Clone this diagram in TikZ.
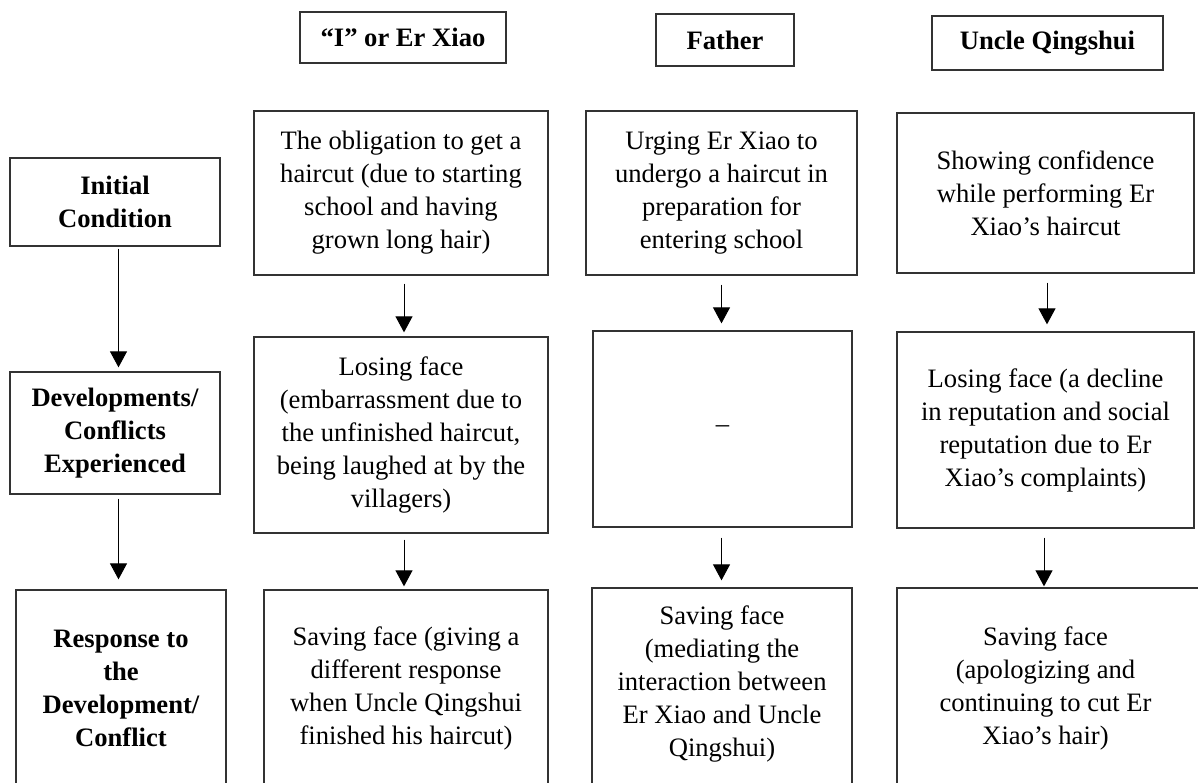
\documentclass[tikz,border=0pt]{standalone}
\usepackage{fontspec}
\setmainfont{Liberation Serif}
\usetikzlibrary{arrows.meta}
\begin{document}
\begin{tikzpicture}[x=1pt,y=-1pt,
  box/.style={draw=black!80, line width=1.3pt, rectangle, inner sep=0pt, align=center, font=\fontsize{26.6}{33}\selectfont},
  hdr/.style={box, font=\fontsize{26.6}{33}\selectfont\bfseries},
  txt/.style={align=center, font=\fontsize{26.6}{33}\selectfont, inner sep=0pt},
  btxt/.style={txt, font=\fontsize{26.6}{33}\selectfont\bfseries},
  arr/.style={line width=1pt, draw=black, -{Triangle[length=16pt,width=17pt]}}]
\useasboundingbox (0,0) rectangle (1198,782);

% headers
\node[hdr, minimum width=206, minimum height=51] (hE) at (403,37.5) {“I” or Er Xiao};
\node[hdr, minimum width=138, minimum height=52] (hF) at (725,40) {Father};
\node[hdr, minimum width=231, minimum height=54] (hU) at (1047.5,43) {Uncle Qingshui};

% left column
\node[hdr, minimum width=210, minimum height=88] (init) at (115,202) {Initial\\Condition};
\node[hdr, minimum width=210, minimum height=122] (dev) at (115,433) {Developments/\\Conflicts\\Experienced};
\node[box, minimum width=210, minimum height=205] (resp) at (121,692.5) {};
\node[btxt] (respt) at (121,688) {Response to\\the\\Development/\\Conflict};

% Er Xiao column
\node[box, minimum width=294, minimum height=164] (e1) at (401,193) {The obligation to get a\\haircut (due to starting\\school and having\\grown long hair)};
\node[box, minimum width=294, minimum height=196] (e2) at (401,435) {Losing face\\(embarrassment due to\\the unfinished haircut,\\being laughed at by the\\villagers)};
\node[box, minimum width=284, minimum height=205] (e3) at (406,692.5) {};
\node[txt] (e3t) at (406,688) {Saving face (giving a\\different response\\when Uncle Qingshui\\finished his haircut)};

% Father column
\node[box, minimum width=271, minimum height=164] (f1) at (721.5,193) {Urging Er Xiao to\\undergo a haircut in\\preparation for\\entering school};
\node[box, minimum width=259, minimum height=196] (f2) at (722.5,429) {–};
\node[box, minimum width=260, minimum height=208] (f3) at (722,692) {};
\node[txt] (f3t) at (722,684) {Saving face\\(mediating the\\interaction between\\Er Xiao and Uncle\\Qingshui)};

% Uncle column
\node[box, minimum width=297, minimum height=160] (u1) at (1045.5,193) {Showing confidence\\while performing Er\\Xiao’s haircut};
\node[box, minimum width=297, minimum height=196] (u2) at (1045.5,430) {Losing face (a decline\\in reputation and social\\reputation due to Er\\Xiao’s complaints)};
\node[box, minimum width=313, minimum height=208] (u3) at (1053.5,692) {};
\node[txt] (u3t) at (1045.5,688) {Saving face\\(apologizing and\\continuing to cut Er\\Xiao’s hair)};

% arrow columns
\coordinate (xL) at (118.5,0);
\coordinate (xE) at (404,0);
\coordinate (xF) at (721.5,0);
\coordinate (xU) at (1047,0);
\coordinate (xU2) at (1044,0);

\draw[arr, shorten <=2pt, shorten >=4pt] (init.south -| xL) -- (dev.north -| xL);
\draw[arr, shorten <=4pt, shorten >=10pt] (dev.south -| xL) -- (resp.north -| xL);
\draw[arr, shorten <=8pt, shorten >=4pt] (e1.south -| xE) -- (e2.north -| xE);
\draw[arr, shorten <=6pt, shorten >=3pt] (e2.south -| xE) -- (e3.north -| xE);
\draw[arr, shorten <=9pt, shorten >=7pt] (f1.south -| xF) -- (f2.north -| xF);
\draw[arr, shorten <=10pt, shorten >=7pt] (f2.south -| xF) -- (f3.north -| xF);
\draw[arr, shorten <=9pt, shorten >=7pt] (u1.south -| xU) -- (u2.north -| xU);
\draw[arr, shorten <=9pt, shorten >=1pt] (u2.south -| xU2) -- (u3.north -| xU2);
\end{tikzpicture}
\end{document}
